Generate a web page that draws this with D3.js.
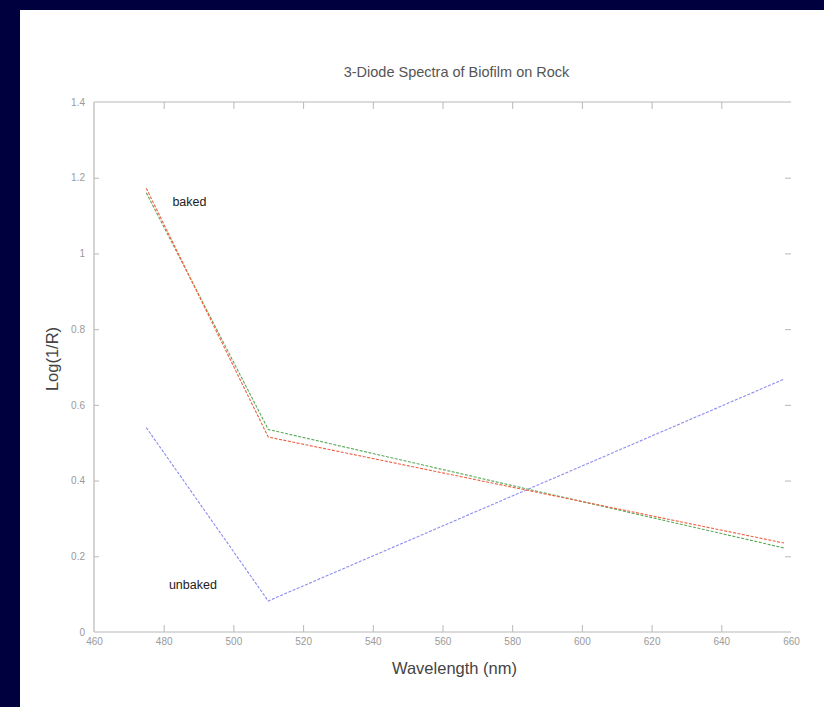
<!DOCTYPE html>
<html>
<head>
<meta charset="utf-8">
<script src="https://cdn.jsdelivr.net/npm/d3@7"></script>
<style>
  html, body { margin: 0; padding: 0; background: #00003f; }
  svg { display: block; }
  text { font-family: "Liberation Sans", Arial, sans-serif; }
</style>
</head>
<body>
<svg id="chart" width="824" height="707"></svg>
<script>
// Three-diode reflectance readings (log(1/R)) at the diode wavelengths
const wavelengths = [475, 510, 658];
const bakedRed    = [1.172, 0.515, 0.235];
const bakedGreen  = [1.160, 0.535, 0.222];
const unbakedBlue = [0.540, 0.082, 0.668];

const xTicks = [460, 480, 500, 520, 540, 560, 580, 600, 620, 640, 660];
const yTicks = [0, 0.2, 0.4, 0.6, 0.8, 1, 1.2, 1.4];
const yTickLabels = ["0", "0.2", "0.4", "0.6", "0.8", "1", "1.2", "1.4"];

const annotations = [
  { text: "baked",   wl: 482.5, v: 1.138 },
  { text: "unbaked", wl: 481.5, v: 0.124 }
];

const svg = d3.select("#chart");
const W = 824, H = 707;

// page background and figure panel
svg.append("rect").attr("width", W).attr("height", H).attr("fill", "#00003f");
svg.append("rect").attr("x", 20).attr("y", 10).attr("width", W - 20).attr("height", H - 10).attr("fill", "#ffffff");

const plot = { left: 94, right: 791, top: 102, bottom: 632 };

const x = d3.scaleLinear().domain([460, 660]).range([plot.left, plot.right]);
const y = d3.scaleLinear().domain([0, 1.4]).range([plot.bottom, plot.top]);

const axisColor = "#b8b8b8";
const labelColor = "#9a9a9a";

// frame: left, top and bottom edges
const frame = svg.append("g").attr("stroke", axisColor).attr("stroke-width", 1.2).attr("fill", "none");
frame.append("line").attr("x1", plot.left).attr("x2", plot.left).attr("y1", plot.top).attr("y2", plot.bottom);
frame.append("line").attr("x1", plot.left).attr("x2", plot.right).attr("y1", plot.top).attr("y2", plot.top);
frame.append("line").attr("x1", plot.left).attr("x2", plot.right).attr("y1", plot.bottom).attr("y2", plot.bottom);

// bottom axis: inward ticks with labels below
const xAxis = d3.axisBottom(x).tickValues(xTicks).tickSizeInner(-7).tickSizeOuter(0).tickPadding(13)
  .tickFormat(d3.format("d"));
const gx = svg.append("g").attr("transform", `translate(0,${plot.bottom})`).call(xAxis);
gx.select(".domain").remove();
gx.selectAll(".tick line").attr("stroke", axisColor).attr("opacity", (d) => (d === 460 || d === 660) ? 0 : 1);
gx.selectAll(".tick text").attr("fill", labelColor).attr("font-size", 10).attr("dy", 0);

// top edge ticks
const gxt = svg.append("g").attr("transform", `translate(0,${plot.top})`)
  .call(d3.axisTop(x).tickValues(xTicks).tickSizeInner(-7).tickSizeOuter(0).tickFormat(""));
gxt.select(".domain").remove();
gxt.selectAll(".tick line").attr("stroke", axisColor).attr("opacity", (d) => (d === 460 || d === 660) ? 0 : 1);

// left axis: inward ticks with labels
const yAxis = d3.axisLeft(y).tickValues(yTicks).tickSizeInner(-5).tickSizeOuter(0).tickPadding(9)
  .tickFormat((d, i) => yTickLabels[i]);
const gy = svg.append("g").attr("transform", `translate(${plot.left},0)`).call(yAxis);
gy.select(".domain").remove();
gy.selectAll(".tick line").attr("stroke", axisColor).attr("opacity", (d) => (d === 0 || d === 1.4) ? 0 : 1);
gy.selectAll(".tick text").attr("fill", labelColor).attr("font-size", 10);

// right edge ticks (no edge line)
const gyr = svg.append("g").attr("transform", `translate(${plot.right},0)`)
  .call(d3.axisRight(y).tickValues(yTicks).tickSizeInner(-6).tickSizeOuter(0).tickFormat(""));
gyr.select(".domain").remove();
gyr.selectAll(".tick line").attr("stroke", axisColor).attr("opacity", (d) => (d === 0 || d === 1.4) ? 0 : 1);

// spectra
const line = d3.line().x((d) => x(d[0])).y((d) => y(d[1]));
const series = [
  { values: unbakedBlue, color: "#8c8cf0", dash: "3,1.5" },
  { values: bakedGreen,  color: "#5aa85a", dash: "3,1.5" },
  { values: bakedRed,    color: "#f06040", dash: "3,1.5" }
];
svg.append("g").selectAll("path").data(series).join("path")
  .attr("d", (s) => line(wavelengths.map((w, i) => [w, s.values[i]])))
  .attr("fill", "none")
  .attr("stroke", (s) => s.color)
  .attr("stroke-width", 1.1)
  .attr("stroke-dasharray", (s) => s.dash);

// in-plot labels
svg.append("g").selectAll("text").data(annotations).join("text")
  .attr("x", (d) => x(d.wl))
  .attr("y", (d) => y(d.v))
  .attr("dy", "0.35em")
  .attr("font-size", 12.5)
  .attr("fill", "#222")
  .text((d) => d.text);

// title and axis titles
svg.append("text").attr("x", (plot.left + plot.right) / 2 + 14).attr("y", 77)
  .attr("text-anchor", "middle").attr("font-size", 14.5).attr("fill", "#555")
  .text("3-Diode Spectra of Biofilm on Rock");

svg.append("text").attr("x", (plot.left + plot.right) / 2 + 12).attr("y", 674)
  .attr("text-anchor", "middle").attr("font-size", 16.5).attr("fill", "#444")
  .text("Wavelength (nm)");

svg.append("text").attr("transform", `translate(58,${(plot.top + plot.bottom) / 2 - 8}) rotate(-90)`)
  .attr("text-anchor", "middle").attr("font-size", 16.5).attr("fill", "#444")
  .text("Log(1/R)");
</script>
</body>
</html>
